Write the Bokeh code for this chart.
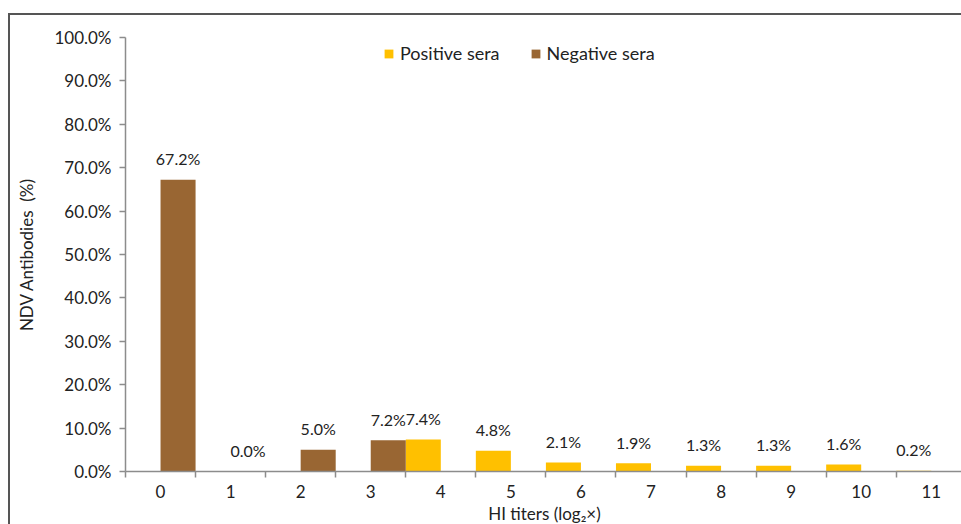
from bokeh.plotting import figure
from bokeh.models import ColumnDataSource, FixedTicker, Legend, LegendItem, Range1d
from bokeh.core.properties import value
from bokeh.embed import file_html
from bokeh.resources import INLINE

categories = [0, 1, 2, 3, 4, 5, 6, 7, 8, 9, 10, 11]
positive_sera = [None, None, None, None, 7.4, 4.8, 2.1, 1.9, 1.3, 1.3, 1.6, 0.2]
negative_sera = [67.2, 0.0, 5.0, 7.2, None, None, None, None, None, None, None, None]
y_ticks = [0, 10, 20, 30, 40, 50, 60, 70, 80, 90, 100]

FONT = "Lato"
POS_COLOR = "#FFC000"
NEG_COLOR = "#996633"
AXIS_COLOR = "#8c8c8c"
TEXT_COLOR = "#222222"

def series_source(vals, offset):
    xs, ys, labels = [], [], []
    for c, v in zip(categories, vals):
        if v is None:
            continue
        xs.append(c + offset)
        ys.append(v)
        labels.append(f"{v:.1f}%")
    return ColumnDataSource(dict(x=xs, top=ys, label=labels))

pos_src = series_source(positive_sera, -0.25)
neg_src = series_source(negative_sera, 0.25)

p = figure(width=953, height=511, output_backend="svg", toolbar_location=None,
           x_range=Range1d(-0.5, 11.46), y_range=Range1d(0, 100),
           min_border_left=115, min_border_right=0, min_border_top=22, min_border_bottom=55)
p.styles = {"border-left": "2px solid #555555", "border-top": "2px solid #555555",
            "margin-top": "13px", "margin-left": "8px"}
p.outline_line_color = None
p.xgrid.grid_line_color = None
p.ygrid.grid_line_color = None
p.background_fill_color = "white"
p.border_fill_color = "white"

r_pos = p.vbar(x="x", top="top", width=0.5, source=pos_src, fill_color=POS_COLOR, line_color=None)
r_neg = p.vbar(x="x", top="top", width=0.5, source=neg_src, fill_color=NEG_COLOR, line_color=None)

for src in (pos_src, neg_src):
    p.text(x="x", y="top", text="label", source=src, text_align="center",
           text_baseline="middle", y_offset=-21, text_font=value(FONT),
           text_font_size="16px", text_color=TEXT_COLOR)

# y axis
ya = p.yaxis[0]
ya.ticker = FixedTicker(ticks=y_ticks)
ya.major_label_overrides = {t: f"{t:.1f}%" for t in y_ticks}
ya.axis_label = "NDV Antibodies\u00a0 (%)"
ya.minor_tick_line_color = None
ya.major_tick_in = 0
ya.major_tick_out = 6
ya.major_label_standoff = 8
ya.axis_line_color = AXIS_COLOR
ya.axis_line_width = 1.5
ya.major_tick_line_color = AXIS_COLOR
ya.major_tick_line_width = 1.5
ya.major_label_text_font = FONT
ya.major_label_text_font_size = "17px"
ya.major_label_text_color = TEXT_COLOR
ya.axis_label_text_font = FONT
ya.axis_label_text_font_size = "17px"
ya.axis_label_text_font_style = "normal"
ya.axis_label_text_color = TEXT_COLOR
ya.axis_label_standoff = 14

# x axis
xa = p.xaxis[0]
xa.ticker = FixedTicker(ticks=categories, minor_ticks=[c - 0.5 for c in categories])
xa.major_label_overrides = {c: str(c) for c in categories}
xa.axis_label = "HI titers (log\u2082\u00d7)"
xa.major_tick_in = 0
xa.major_tick_out = 0
xa.minor_tick_in = 0
xa.minor_tick_out = 6
xa.minor_tick_line_color = AXIS_COLOR
xa.minor_tick_line_width = 1.5
xa.major_label_standoff = 7
xa.axis_line_color = AXIS_COLOR
xa.axis_line_width = 1.5
xa.major_label_text_font = FONT
xa.major_label_text_font_size = "17px"
xa.major_label_text_color = TEXT_COLOR
xa.axis_label_text_font = FONT
xa.axis_label_text_font_size = "17px"
xa.axis_label_text_font_style = "normal"
xa.axis_label_text_color = TEXT_COLOR
xa.axis_label_standoff = 2

legend = Legend(items=[LegendItem(label="Positive sera", renderers=[r_pos]),
                       LegendItem(label="Negative sera", renderers=[r_neg])],
                orientation="horizontal", location=(258, 407),
                glyph_width=11, glyph_height=11, label_standoff=6, spacing=30,
                padding=0, margin=0, border_line_color=None, background_fill_alpha=0,
                label_text_font=FONT, label_text_font_size="18px", label_text_color=TEXT_COLOR)
p.add_layout(legend, "center")

open("out.html", "w").write(file_html(p, INLINE))
